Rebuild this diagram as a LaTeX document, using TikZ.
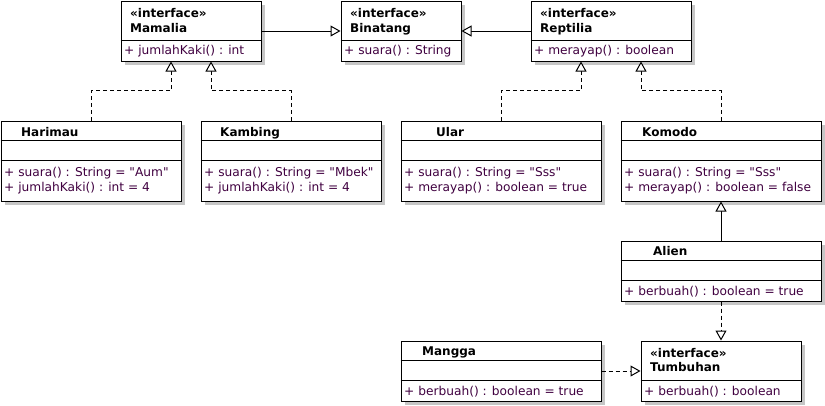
\documentclass[tikz,border=0pt]{standalone}
\usepackage{fontspec}
\setmainfont{DejaVu Sans}[Ligatures=TeXOff]
\usetikzlibrary{arrows.meta,shadows}
\definecolor{meth}{HTML}{400040}
\begin{document}
\begin{tikzpicture}[x=1pt,y=-1pt,
  umlbox/.style={draw, line width=1pt, fill=white, inner sep=0pt, anchor=north west,
    drop shadow={shadow xshift=4pt, shadow yshift=-4pt, fill=gray!45, opacity=1}},
  ttl/.style={inner sep=0pt, anchor=base west, font=\bfseries\fontsize{12}{14}\selectfont, text=black},
  mth/.style={inner sep=0pt, anchor=base west, font=\fontsize{12.2}{14}\selectfont, text=meth},
  divline/.style={draw, line width=1pt},
  realize/.style={draw, line width=1pt, dash pattern=on 4pt off 3pt, -{Triangle[fill=white,length=10pt,width=11pt]}},
  gen/.style={draw, line width=1pt, -{Triangle[fill=white,length=10pt,width=11pt]}}]
\useasboundingbox[fill=white] (0,0) rectangle (825,405);

% ---------- boxes ----------
\node[umlbox, minimum width=140pt, minimum height=60pt] (mam) at (120.5,0.5) {};
\node[umlbox, minimum width=120pt, minimum height=60pt] (bin) at (340.5,0.5) {};
\node[umlbox, minimum width=160pt, minimum height=60pt] (rep) at (530.5,0.5) {};
\node[umlbox, minimum width=180pt, minimum height=80pt] (har) at (0.5,120.5) {};
\node[umlbox, minimum width=180pt, minimum height=80pt] (kam) at (200.5,120.5) {};
\node[umlbox, minimum width=200pt, minimum height=80pt] (ula) at (400.5,120.5) {};
\node[umlbox, minimum width=200pt, minimum height=80pt] (kom) at (620.5,120.5) {};
\node[umlbox, minimum width=200pt, minimum height=60pt] (ali) at (620.5,240.5) {};
\node[umlbox, minimum width=200pt, minimum height=60pt] (man) at (400.5,340.5) {};
\node[umlbox, minimum width=160pt, minimum height=60pt] (tum) at (640.5,340.5) {};

% ---------- dividers ----------
\foreach \b in {mam,bin,rep,tum}{
  \path[divline] ([yshift=-40pt]\b.north west) -- ([yshift=-40pt]\b.north east);
}
\foreach \b in {har,kam,ula,kom,ali,man}{
  \path[divline] ([yshift=-20pt]\b.north west) -- ([yshift=-20pt]\b.north east);
  \path[divline] ([yshift=-40pt]\b.north west) -- ([yshift=-40pt]\b.north east);
}

% ---------- texts ----------
\node[ttl] (mamS) at (130,17) {«interface»};
\node[ttl] (mamN) at (130,32) {Mamalia};
\node[mth] (mamM) at (124,54.5) {+ jumlahKaki() : int};

\node[ttl] (binS) at (350,17) {«interface»};
\node[ttl] (binN) at (350,32) {Binatang};
\node[mth] (binM) at (344,54.5) {+ suara() : String};

\node[ttl] (repS) at (540,17) {«interface»};
\node[ttl] (repN) at (540,32) {Reptilia};
\node[mth] (repM) at (534,54.5) {+ merayap() : boolean};

\node[ttl] (harN) at (21,136) {Harimau};
\node[mth] (harA) at (4,176) {+ suara() : String = "Aum"};
\node[mth] (harB) at (4,191.5) {+ jumlahKaki() : int = 4};

\node[ttl] (kamN) at (220,136) {Kambing};
\node[mth] (kamA) at (204,176) {+ suara() : String = "Mbek"};
\node[mth] (kamB) at (204,191.5) {+ jumlahKaki() : int = 4};

\node[ttl] (ulaN) at (436,136) {Ular};
\node[mth] (ulaA) at (404,176) {+ suara() : String = "Sss"};
\node[mth] (ulaB) at (404,191.5) {+ merayap() : boolean = true};

\node[ttl] (komN) at (642,136) {Komodo};
\node[mth] (komA) at (624,176) {+ suara() : String = "Sss"};
\node[mth] (komB) at (624,191.5) {+ merayap() : boolean = false};

\node[ttl] (aliN) at (653,255.5) {Alien};
\node[mth] (aliA) at (624,295.5) {+ berbuah() : boolean = true};

\node[ttl] (manN) at (422,355.5) {Mangga};
\node[mth] (manA) at (404,395.5) {+ berbuah() : boolean = true};

\node[ttl] (tumS) at (650,357) {«interface»};
\node[ttl] (tumN) at (650,371.5) {Tumbuhan};
\node[mth] (tumA) at (644,395.5) {+ berbuah() : boolean};

% ---------- connectors ----------
\draw[gen] (mam.east) -- (bin.west);
\draw[gen] (rep.west) -- (bin.east);
\draw[realize] (har.north) -- ++(0,-30) -| ([xshift=-20pt]mam.south);
\draw[realize] (kam.north) -- ++(0,-30) -| ([xshift=20pt]mam.south);
\draw[realize] (ula.north) -- ++(0,-30) -| ([xshift=-30pt]rep.south);
\draw[realize] (kom.north) -- ++(0,-30) -| ([xshift=30pt]rep.south);
\draw[gen] (ali.north) -- (kom.south);
\draw[realize] (ali.south) -- (tum.north);
\draw[realize] (man.east) -- (tum.west);
\end{tikzpicture}
\end{document}
